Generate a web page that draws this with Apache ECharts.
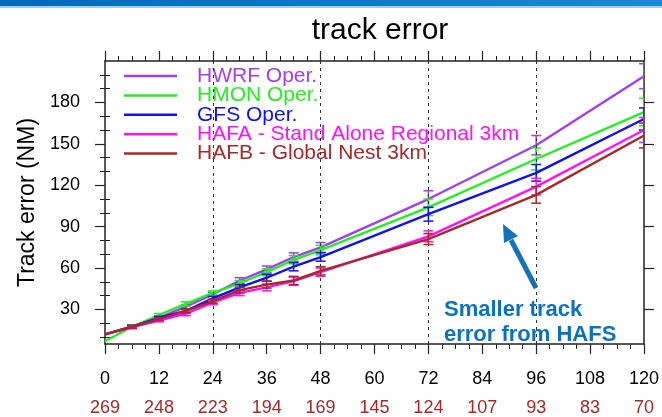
<!DOCTYPE html>
<html>
<head>
<meta charset="utf-8">
<script src="https://cdn.jsdelivr.net/npm/echarts@6/dist/echarts.min.js"></script>
<style>html,body{margin:0;padding:0;background:#fff;}#c{width:662px;height:417px;}</style>
</head>
<body>
<div id="c"></div>
<script>
// ---- data ----
const leads = [0, 6, 12, 18, 24, 30, 36, 42, 48, 72, 96, 120];
const xTickLabels = [0, 12, 24, 36, 48, 60, 72, 84, 96, 108, 120];
const caseCounts = [269, 248, 223, 194, 169, 145, 124, 107, 93, 83, 70];
const yTickLabels = [30, 60, 90, 120, 150, 180];
const seriesNames = ['HWRF Oper.', 'HMON Oper.', 'GFS Oper.', 'HAFA - Stand Alone Regional 3km', 'HAFB - Global Nest 3km'];
const hwrf = [12, 17.5, 24, 32, 41, 51, 59, 68, 75, 110, 149, 199];
const hmon = [7, 17.5, 26, 34, 42, 49, 57, 66, 73, 104, 139, 173];
const gfs  = [12, 17.5, 24, 29, 38, 46, 53, 61, 68, 99, 129, 168];
const hafa = [12, 17, 22, 27, 35, 42, 46, 50.5, 57, 83, 119, 160];
const hafb = [12, 17.5, 23, 29, 36, 44, 48, 51, 58, 81, 113, 156];
const hwrfErr = [0, 1, 1, 1.5, 1.5, 2, 2.5, 3, 3.5, 6, 7, 9];
const hmonErr = [0, 1, 1, 1.5, 1.5, 2, 2.5, 3, 3.5, 6, 8, 10];
const gfsErr  = [0, 1, 1, 1.5, 1.5, 2, 2.5, 3, 3, 5, 6, 8];
const hafaErr = [0, 1, 1, 1.5, 1.5, 2, 2.5, 3, 3, 4, 6, 9];
const hafbErr = [0, 1, 1, 1.5, 1.5, 2, 2.5, 3, 3, 4, 6, 9];
const dashedLeads = [24, 48, 72, 96];
const annotation = 'Smaller track\nerror from HAFS';

// ---- styling ----
const colors = ['#a040e8', '#22ee22', '#1010f0', '#ff10ff', '#a52a2a'];
const allValues = [hwrf, hmon, gfs, hafa, hafb];
const allErrs = [hwrfErr, hmonErr, gfsErr, hafaErr, hafbErr];
const FONT = 'Liberation Sans, Arial, Helvetica, sans-serif';
const Y_MIN = 5, Y_MAX = 210;
const minorY = [];
for (let v = 10; v <= 200; v += 10) if (v % 30 !== 0) minorY.push(v);

const chart = echarts.init(document.getElementById('c'), null, {renderer: 'canvas'});

function errRender(color) {
  return function (params, api) {
    const x = api.value(0), lo = api.value(1), hi = api.value(2);
    if (hi - lo <= 0) return null;
    const a = api.coord([x, lo]), b = api.coord([x, hi]);
    const w = 5;
    const st = {stroke: color, lineWidth: 1.5};
    return {
      type: 'group',
      children: [
        {type: 'line', shape: {x1: a[0], y1: a[1], x2: b[0], y2: b[1]}, style: st},
        {type: 'line', shape: {x1: a[0] - w, y1: a[1], x2: a[0] + w, y2: a[1]}, style: st},
        {type: 'line', shape: {x1: b[0] - w, y1: b[1], x2: b[0] + w, y2: b[1]}, style: st}
      ]
    };
  };
}

const series = [];
seriesNames.forEach((name, i) => {
  series.push({
    name: name,
    type: 'line',
    xAxisIndex: 0, yAxisIndex: 0,
    data: leads.map((l, k) => [l, allValues[i][k]]),
    showSymbol: false,
    lineStyle: {color: colors[i], width: 2.4},
    itemStyle: {color: colors[i]},
    z: 3 + i,
    animation: false,
    markLine: i === 0 ? {
      silent: true, symbol: 'none', label: {show: false},
      lineStyle: {color: '#333', type: [3, 4], width: 1},
      data: dashedLeads.map(v => ({xAxis: v}))
    } : undefined
  });
});
seriesNames.forEach((name, i) => {
  series.push({
    name: name + ' err',
    type: 'custom',
    xAxisIndex: 0, yAxisIndex: 0,
    clip: true,
    renderItem: errRender(colors[i]),
    data: leads.map((l, k) => [l, allValues[i][k] - allErrs[i][k], allValues[i][k] + allErrs[i][k]]),
    encode: {x: 0, y: [1, 2]},
    z: 3 + i,
    animation: false
  });
});

const axisLineStyle = {color: '#222', width: 1.5};

const legends = seriesNames.map((n, i) => ({
  orient: 'vertical', left: 124, top: 65.5 + i * 19.4, padding: 0, selectedMode: false,
  icon: 'rect', itemWidth: 53, itemHeight: 2.5, itemGap: 0,
  textStyle: {fontFamily: FONT, fontSize: 21, lineHeight: 19, padding: [0, 0, 0, 15]},
  data: [{name: n, textStyle: {color: colors[i]}}]
}));

const option = {
  animation: false,
  backgroundColor: '#fff',
  title: {
    text: 'track error',
    left: 375, top: 11, textAlign: 'center',
    textStyle: {fontFamily: FONT, fontSize: 30, fontWeight: 'normal', color: '#000'}
  },
  grid: {left: 105, right: 17, top: 61, bottom: 69, containLabel: false},
  legend: legends,
  xAxis: [
    {
      type: 'value', position: 'bottom', min: 0, max: 120, interval: 12,
      axisLine: {show: true, onZero: false, lineStyle: axisLineStyle},
      axisTick: {show: true, length: 10, lineStyle: {color: '#222', width: 1.2}},
      minorTick: {show: true, splitNumber: 4, length: 5, lineStyle: {color: '#222', width: 1}},
      splitLine: {show: false},
      axisLabel: {show: true, margin: 26, fontFamily: FONT, fontSize: 18, color: '#000',
        formatter: v => xTickLabels.indexOf(v) >= 0 ? String(v) : ''}
    },
    {
      type: 'value', position: 'top', min: 0, max: 120, interval: 12,
      axisLine: {show: true, onZero: false, lineStyle: axisLineStyle},
      axisTick: {show: true, length: 10, lineStyle: {color: '#222', width: 1.2}},
      minorTick: {show: true, splitNumber: 4, length: 5, lineStyle: {color: '#222', width: 1}},
      splitLine: {show: false},
      axisLabel: {show: false}
    },
    {
      type: 'value', position: 'bottom', offset: 31, min: 0, max: 120, interval: 12,
      axisLine: {show: false}, axisTick: {show: false}, splitLine: {show: false},
      axisLabel: {show: true, margin: 24, fontFamily: FONT, fontSize: 18, color: '#a52a2a',
        formatter: v => { const k = Math.round(v / 12); return caseCounts[k] !== undefined ? String(caseCounts[k]) : ''; }}
    }
  ],
  yAxis: [
    {
      type: 'value', position: 'left', min: Y_MIN, max: Y_MAX,
      name: 'Track error (NM)', nameLocation: 'middle', nameGap: 66, nameRotate: 90,
      nameTextStyle: {fontFamily: FONT, fontSize: 23, color: '#000'},
      axisLine: {show: true, onZero: false, lineStyle: axisLineStyle},
      axisTick: {show: true, length: 10, customValues: yTickLabels, lineStyle: {color: '#222', width: 1.2}},
      splitLine: {show: false},
      axisLabel: {show: true, margin: 25, customValues: yTickLabels, fontFamily: FONT, fontSize: 18, color: '#000'}
    },
    {
      type: 'value', position: 'left', min: Y_MIN, max: Y_MAX,
      axisLine: {show: false},
      axisTick: {show: true, length: 5, customValues: minorY, lineStyle: {color: '#222', width: 1}},
      splitLine: {show: false},
      axisLabel: {show: false}
    },
    {
      type: 'value', position: 'right', min: Y_MIN, max: Y_MAX,
      axisLine: {show: true, onZero: false, lineStyle: axisLineStyle},
      axisTick: {show: true, length: 10, customValues: yTickLabels, lineStyle: {color: '#222', width: 1.2}},
      splitLine: {show: false},
      axisLabel: {show: false}
    },
    {
      type: 'value', position: 'right', min: Y_MIN, max: Y_MAX,
      axisLine: {show: false},
      axisTick: {show: true, length: 5, customValues: minorY, lineStyle: {color: '#222', width: 1}},
      splitLine: {show: false},
      axisLabel: {show: false}
    }
  ],
  series: series,
  graphic: [
    {type: 'rect', left: 0, top: 0, shape: {width: 662, height: 6}, z: 100,
      style: {fill: new echarts.graphic.LinearGradient(0, 0, 1, 0, [{offset: 0, color: '#006ab8'}, {offset: 1, color: '#1a88d4'}])}},
    {type: 'rect', left: 0, top: 6, shape: {width: 662, height: 2}, z: 100, style: {fill: '#9fcff0'}},
    {type: 'text', left: 444, top: 297, z: 100,
      style: {text: annotation, font: 'bold 22px ' + FONT, fill: '#0a72c0', lineHeight: 25}},
    {type: 'line', z: 100, shape: {x1: 536, y1: 288, x2: 511, y2: 240},
      style: {stroke: '#1572b6', lineWidth: 5}},
    {type: 'polygon', z: 100, shape: {points: [[503, 224], [518, 236], [504, 243]]},
      style: {fill: '#1572b6'}}
  ]
};
chart.setOption(option);
</script>
</body>
</html>
